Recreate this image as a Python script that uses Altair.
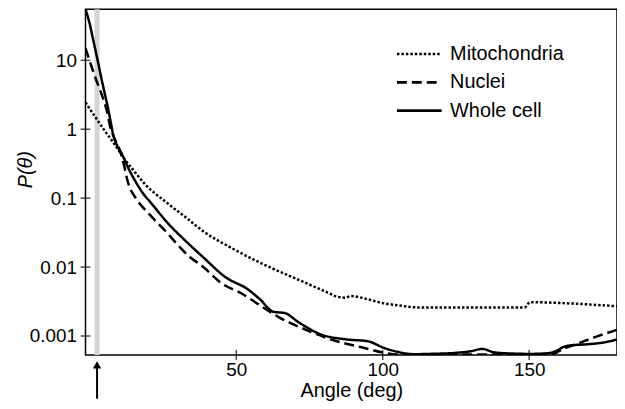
import altair as alt
import pandas as pd

# ---- data ----
wc_angle = [-1.5, 0, 1, 2, 3, 4, 5, 6, 7, 8, 9, 10.9, 13, 15.4, 18, 21.1, 26.7, 32.4, 38.6,
            46.2, 54.1, 58.1, 62.6, 66.6, 71.1, 79, 88, 94.9, 100.5, 105, 110.7, 116, 125,
            130, 134, 138, 145, 150, 156, 159, 162, 164, 170, 175, 180]
wc_p = [55, 33, 21, 13.4, 8.5, 5.3, 3.4, 2.2, 1.35, 0.82, 0.62, 0.44, 0.28, 0.18, 0.12, 0.083,
        0.043, 0.0246, 0.014, 0.0072, 0.0047, 0.0034, 0.00225, 0.00215, 0.0016, 0.00105,
        0.00089, 0.00084, 0.00067, 0.00059, 0.000545, 0.00055, 0.00057, 0.0006, 0.00065,
        0.00058, 0.000555, 0.00055, 0.00056, 0.0006, 0.0007, 0.00073, 0.00076, 0.0008, 0.00089]

nu_angle = [-1.5, 0.7, 2, 3.6, 5, 5.8, 6.9, 8, 9.8, 11.5, 13, 16, 20.2, 25.6, 29.6, 34.1, 38.3,
            45, 52, 58, 64.3, 73.4, 82.4, 93.8, 100.5, 106, 120, 140, 158, 161.6, 166, 173, 180]
nu_p = [15, 7.8, 5.4, 3.6, 2.4, 1.85, 1.1, 0.8, 0.55, 0.32, 0.17, 0.096, 0.059, 0.034, 0.022,
        0.014, 0.0104, 0.0058, 0.0041, 0.0028, 0.0019, 0.00125, 0.00089, 0.00067, 0.00057,
        0.00054, 0.00054, 0.00054, 0.00055, 0.00065, 0.00076, 0.00098, 0.00123]

mi_angle = [-1.5, 1.9, 5.3, 8.5, 12, 15, 18.8, 26.7, 32.4, 39.2, 48.5, 59.8, 71.1, 80, 84.7,
            87, 89.2, 95, 100, 105, 111.8, 127.7, 148.5, 150.3, 161.6, 180]
mi_p = [2.45, 1.49, 0.92, 0.6, 0.36, 0.25, 0.16, 0.083, 0.054, 0.032, 0.0188, 0.0107, 0.0066,
        0.0045, 0.0037, 0.0036, 0.0038, 0.0034, 0.003, 0.0028, 0.0026, 0.0026, 0.0026, 0.0031,
        0.003, 0.0027]

series_names = ["Mitochondria", "Nuclei", "Whole cell"]
y_ticks = [0.001, 0.01, 0.1, 1, 10]
x_ticks = [50, 100, 150]
band_range = [1.6, 3.3]
arrow_angle = [2.45]

FONT = "Liberation Sans"

rows = []
for name, xs, ys in [("Mitochondria", mi_angle, mi_p), ("Nuclei", nu_angle, nu_p),
                     ("Whole cell", wc_angle, wc_p)]:
    for i, (a, p) in enumerate(zip(xs, ys)):
        rows.append({"series": name, "angle": a, "P": p, "order": i})
df = pd.DataFrame(rows)

xscale = alt.Scale(domain=[-1.5, 180], nice=False, zero=False)
yscale = alt.Scale(type="log", domain=[0.00053, 55], nice=False)

x_axis = alt.Axis(values=x_ticks, title="Angle (deg)", grid=False, ticks=False,
                  domain=False, labelPadding=6, labelFontSize=19, labelFont=FONT,
                  labelColor="black", titleFont=FONT, titleFontSize=20,
                  titleFontWeight="normal", titleColor="black", titlePadding=1)
y_axis = alt.Axis(values=y_ticks, format="~g", title="P(θ)", grid=False, ticks=False,
                  domain=False, labelPadding=9, labelFontSize=19, labelFont=FONT,
                  labelColor="black", titleFont=FONT, titleFontSize=20,
                  titleFontStyle="italic", titleFontWeight="normal",
                  titleColor="black", titleX=-50, titleY=161)

band = alt.Chart(pd.DataFrame({"a": [band_range[0]], "b": [band_range[1]]})).mark_rect(
    color="#d4d4d4").encode(
    x=alt.X("a:Q", scale=xscale, axis=x_axis),
    x2="b:Q",
    y=alt.value(0),
    y2=alt.value(348),
)

lines = alt.Chart(df).mark_line(color="black", strokeWidth=2.5, clip=True,
                                interpolate="monotone").encode(
    x=alt.X("angle:Q", scale=xscale, axis=x_axis),
    y=alt.Y("P:Q", scale=yscale, axis=y_axis),
    strokeDash=alt.StrokeDash(
        "series:N",
        scale=alt.Scale(domain=series_names, range=[[2.5, 2], [10, 5], [1, 0]]),
        legend=alt.Legend(title=None, orient="none", legendX=312, legendY=34,
                          symbolType="stroke", symbolSize=2025, symbolStrokeWidth=2.7,
                          symbolStrokeColor="black", labelFont=FONT, labelFontSize=20,
                          labelColor="black", labelOffset=7, clipHeight=22, rowPadding=6.5)),
    order="order:Q",
    detail="series:N",
)

ytick_marks = alt.Chart(pd.DataFrame({"v": y_ticks})).mark_tick(
    color="black", size=10, thickness=1.5).encode(
    y=alt.Y("v:Q", scale=yscale, axis=y_axis),
    x=alt.value(0),
)
xtick_marks = alt.Chart(pd.DataFrame({"v": x_ticks})).mark_tick(
    color="black", size=10, thickness=1.5).encode(
    x=alt.X("v:Q", scale=xscale, axis=x_axis),
    y=alt.value(348),
)

arrow_df = pd.DataFrame({"a": arrow_angle})
arrow_line = alt.Chart(arrow_df).mark_rule(color="black", strokeWidth=2).encode(
    x=alt.X("a:Q", scale=xscale, axis=x_axis),
    y=alt.value(358),
    y2=alt.value(392),
)
arrow_head = alt.Chart(arrow_df).mark_point(
    shape="triangle-up", filled=True, color="black", size=70, opacity=1).encode(
    x=alt.X("a:Q", scale=xscale, axis=x_axis),
    y=alt.value(358),
)

chart = alt.layer(band, lines, ytick_marks, xtick_marks, arrow_line, arrow_head).properties(
    width=535,
    height=348,
    background="white",
    autosize=alt.AutoSizeParams(type="none"),
    padding={"left": 78, "top": 0, "right": 0, "bottom": 45},
).configure_view(
    stroke="black", strokeWidth=1.5
)

chart.save("out.html", embed_options={"renderer": "svg", "actions": False})
